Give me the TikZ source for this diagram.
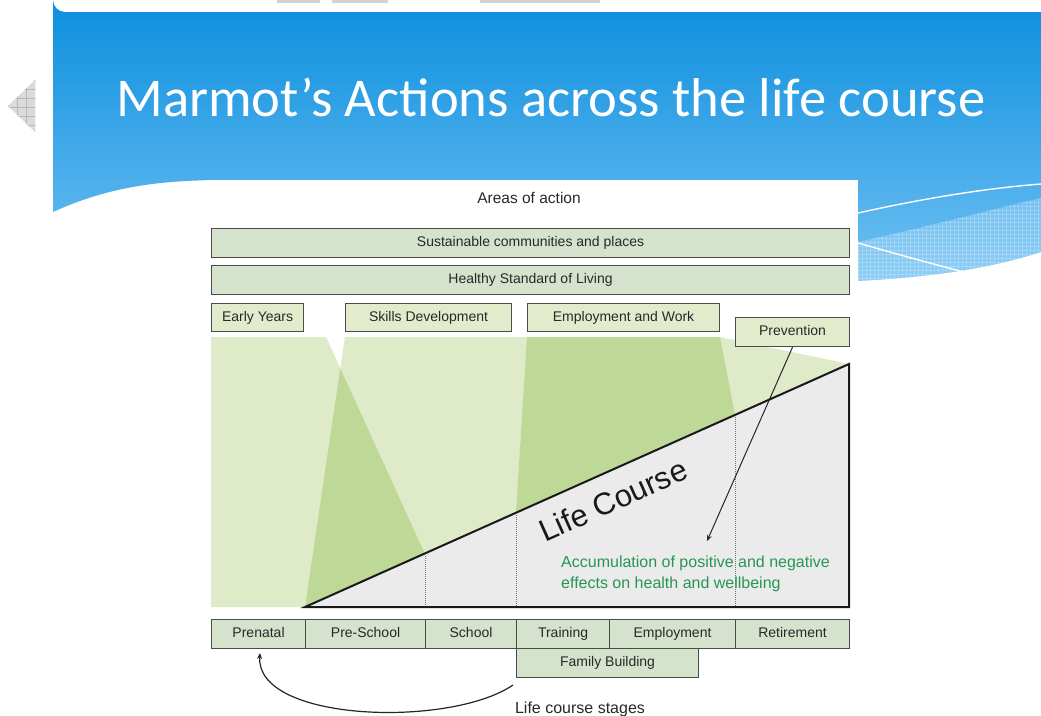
\documentclass[tikz,border=0pt]{standalone}
\usepackage{fontspec}
\setmainfont{Liberation Sans}
\newfontfamily\titlefont{Carlito}
\usetikzlibrary{arrows.meta,calc}
\definecolor{bTop}{RGB}{12,143,221}
\definecolor{bBot}{RGB}{112,192,243}
\definecolor{lgreen}{RGB}{222,234,200}
\definecolor{dgreen}{RGB}{190,216,152}
\definecolor{sage}{RGB}{213,227,204}
\definecolor{ygreen}{RGB}{226,236,205}
\definecolor{tgrey}{RGB}{235,235,235}
\definecolor{bord}{RGB}{75,75,75}
\definecolor{accgreen}{RGB}{38,150,82}
\definecolor{txtgrey}{RGB}{40,40,40}
\begin{document}
\begin{tikzpicture}[x=1pt,y=-1pt,
  box/.style={draw=bord, line width=1.1pt, fill=sage, inner sep=0pt, anchor=north west,
    text=txtgrey, font=\fontsize{14}{16}\selectfont, text height=10pt, text depth=3pt},
  areabox/.style={box, fill=ygreen},
  conn/.style={draw=black!85, line width=1pt, -{Stealth[length=6pt,width=5pt]}},
  dotline/.style={draw=black!55, line width=0.8pt, dash pattern=on 1pt off 1pt},
  swline/.style={draw=white, line width=1.4pt}]
\useasboundingbox (0,0) rectangle (1041,715);
\fill[white] (0,0) rectangle (1041,715);
% faint marks at the top
\fill[black!18] (277,0) rectangle (320,3);
\fill[black!18] (332,0) rectangle (388,3);
\fill[black!18] (480,0) rectangle (600,3);
% left navigation triangle
\fill[black!14] (35,80) -- (8,106) -- (35,132) -- cycle;
\begin{scope}
  \clip (35,80) -- (8,106) -- (35,132) -- cycle;
  \foreach \g in {0,9,...,60} {
    \draw[black!28, line width=0.5pt] (8+\g,78) -- (8+\g,134);
    \draw[black!28, line width=0.5pt] (0,80+\g) -- (40,80+\g);
  }
\end{scope}
% banner
\shade[top color=bTop, bottom color=bBot]
  (53,212) .. controls (110,186) and (160,181) .. (215,180) -- (855,180)
  -- (858,281) .. controls (950,276) and (1000,265) .. (1041,252)
  -- (1041,12) -- (65,12) arc[start angle=90, end angle=180, radius=12] -- cycle;
% right swoosh
\begin{scope}
  \clip (858,242) .. controls (930,226) and (990,210) .. (1041,198) -- (1041,252)
    .. controls (1000,265) and (950,276) .. (858,281) -- cycle;
  \fill[white, opacity=0.2] (850,190) rectangle (1041,290);
  \foreach \g in {0,4,...,200} {
    \draw[white, opacity=0.22, line width=0.4pt] (858+\g,190) -- (858+\g,290);
  }
  \foreach \g in {0,4,...,100} {
    \draw[white, opacity=0.22, line width=0.4pt] (850,190+\g) -- (1041,190+\g);
  }
\end{scope}
\draw[swline] (858,213) .. controls (930,197) and (990,188) .. (1041,184);
\draw[swline] (858,243) .. controls (900,255) and (940,266) .. (968,273);
% title
\node[anchor=base, text=white, font=\titlefont\fontsize{54.6}{60}\selectfont] (title) at (551,116) {Marmot’s Actions across the life course};
% white panel
\fill[white] (210,180) rectangle (858,715);
\node[font=\fontsize{15.5}{18}\selectfont, text=txtgrey] (areas) at (529,198) {Areas of action};
% green projections
\fill[lgreen] (211,337) -- (326,337) -- (425,554) -- (305,607) -- (211,607) -- cycle;
\fill[lgreen] (345,337) -- (720,337) -- (849,364) -- (305,607) -- cycle;
\fill[dgreen] (340.3,368.4) -- (425,554) -- (305,607) -- cycle;
\fill[dgreen] (527,337) -- (720,337) -- (735,415) -- (516,513) -- cycle;
% life course triangle
\filldraw[fill=tgrey, draw=black!90, line width=2pt, line join=miter] (305,607) -- (849,364) -- (849,607) -- cycle;
\draw[dotline] (425,556) -- (425,606);
\draw[dotline] (516,515) -- (516,606);
\draw[dotline] (735,417) -- (735,606);
\node[rotate=24.1, font=\fontsize{31}{36}\selectfont, text=black!90] (lc) at (613,500) {Life Course};
\node[anchor=north west, align=left, inner sep=0pt, text=accgreen, font=\fontsize{16}{20.5}\selectfont] (acc) at (561,556) {Accumulation of positive and negative\\effects on health and wellbeing};
% areas of action boxes
\node[box, minimum width=638pt, minimum height=29pt] (sus) at (211,228) {Sustainable communities and places};
\node[box, minimum width=638pt, minimum height=29pt] (hsl) at (211,265) {Healthy Standard of Living};
\node[areabox, minimum width=92pt, minimum height=28pt] (ey) at (211,303) {Early Years};
\node[areabox, minimum width=166pt, minimum height=28pt] (sd) at (345,303) {Skills Development};
\node[areabox, minimum width=192pt, minimum height=28pt] (ew) at (527,303) {Employment and Work};
\node[areabox, minimum width=114pt, minimum height=29pt] (prev) at (735,317) {Prevention};
% stages
\node[box, minimum width=94pt, minimum height=29pt] (pren) at (211,619) {Prenatal};
\node[box, minimum width=120pt, minimum height=29pt] (pres) at (305,619) {Pre-School};
\node[box, minimum width=91pt, minimum height=29pt] (sch) at (425,619) {School};
\node[box, minimum width=182pt, minimum height=29pt] (fam) at (516,648) {Family Building};
\node[box, minimum width=93pt, minimum height=29pt] (tra) at (516,619) {Training};
\node[box, minimum width=126pt, minimum height=29pt] (emp) at (609,619) {Employment};
\node[box, minimum width=114pt, minimum height=29pt] (ret) at (735,619) {Retirement};
\node[font=\fontsize{16}{18}\selectfont, text=txtgrey, anchor=base] (lcs) at (580,713) {Life course stages};
% connectors
\coordinate (accpt) at (707,541);
\draw[conn] (prev.south) -- (accpt);
\coordinate (cstart) at (513,685);
\coordinate (cend) at (260,653);
\draw[conn, line width=1.2pt] (cstart) .. controls (450,728) and (255,722) .. (cend);
\end{tikzpicture}
\end{document}
